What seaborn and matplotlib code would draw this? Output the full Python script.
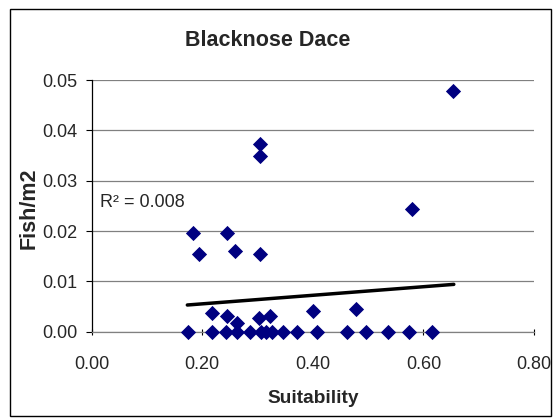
import matplotlib
matplotlib.use("Agg")
import matplotlib.pyplot as plt
import seaborn as sns
import pandas as pd
from matplotlib.patches import Rectangle

# Data
suitability = [0.175, 0.217, 0.243, 0.262, 0.286, 0.307, 0.316, 0.327, 0.346,
               0.371, 0.408, 0.461, 0.496, 0.536, 0.574, 0.616,
               0.218, 0.244, 0.263, 0.303, 0.323, 0.400, 0.478,
               0.184, 0.244, 0.194, 0.260, 0.304,
               0.304, 0.304, 0.654, 0.580]
fish_m2 = [0.0, 0.0, 0.0, 0.0, 0.0, 0.0, 0.0, 0.0, 0.0,
           0.0, 0.0, 0.0, 0.0, 0.0, 0.0, 0.0,
           0.0038, 0.0031, 0.0017, 0.0028, 0.0031, 0.0042, 0.0046,
           0.0197, 0.0197, 0.0154, 0.0160, 0.0154,
           0.0373, 0.0350, 0.0479, 0.0244]
trend_x = [0.173, 0.655]
trend_y = [0.0053, 0.0094]
x_ticks = [0.0, 0.2, 0.4, 0.6, 0.8]
y_ticks = [0.0, 0.01, 0.02, 0.03, 0.04, 0.05]
title = "Blacknose Dace"
r2_text = "R² = 0.008"

df = pd.DataFrame({"Suitability": suitability, "Fish/m2": fish_m2})
trend = pd.DataFrame({"x": trend_x, "y": trend_y})

sns.set_style("white")
plt.rcParams["font.family"] = ["Liberation Sans", "DejaVu Sans"]

fig = plt.figure(figsize=(5.53, 4.18), dpi=100)
ax = fig.add_axes([0.1658, 0.2065, 0.7998, 0.6021])

ax.yaxis.grid(True, color="#808080", linewidth=0.9)
ax.set_axisbelow(True)

sns.lineplot(data=trend, x="x", y="y", ax=ax, color="black", linewidth=2.5, zorder=2)
sns.scatterplot(data=df, x="Suitability", y="Fish/m2", ax=ax, marker="D",
                color="#000080", edgecolor="#000080", s=60, linewidth=0, zorder=3,
                clip_on=False)

ax.set_xlim(0, 0.8)
ax.set_ylim(0, 0.05)
ax.set_xticks(x_ticks)
ax.set_yticks(y_ticks)
ax.set_xticklabels([f"{v:.2f}" for v in x_ticks])
ax.set_yticklabels([f"{v:.2f}" for v in y_ticks])
ax.tick_params(axis="y", direction="out", length=4, width=0.8, color="black",
               pad=6.5, labelsize=13, left=True)
ax.tick_params(axis="x", direction="inout", length=5, width=0.8, color="black",
               pad=15, labelsize=13, bottom=True)

for s in ["top", "right"]:
    ax.spines[s].set_visible(False)
ax.spines["left"].set_color("black")
ax.spines["left"].set_linewidth(0.9)
ax.spines["bottom"].set_color("#808080")
ax.spines["bottom"].set_linewidth(0.9)

ax.set_xlabel("Suitability", fontsize=13.8, fontweight="bold")
ax.set_ylabel("Fish/m2", fontsize=15.5, fontweight="bold")
ax.xaxis.set_label_coords(0.5, -0.232)
ax.yaxis.set_label_coords(-0.117, 0.49)

ax.text(0.019, 0.515, r2_text, transform=ax.transAxes, fontsize=13,
        ha="left", va="center")

fig.text(0.484, 0.904, title, fontsize=15.5, fontweight="bold", ha="center", va="center")

fig.patches.append(Rectangle((10 / 553, 2 / 418), 541 / 553, 407 / 418,
                             transform=fig.transFigure, fill=False,
                             edgecolor="black", linewidth=1.0))

fig.savefig("out.png", dpi=100)
